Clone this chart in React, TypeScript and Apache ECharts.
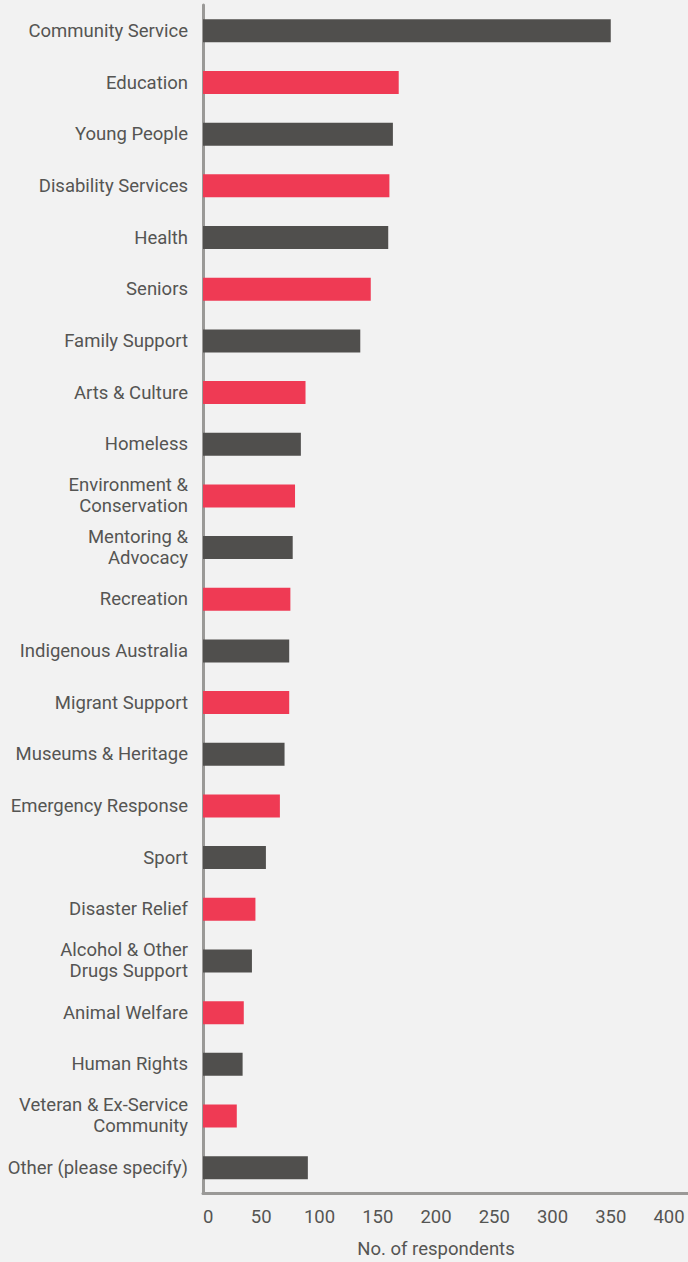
import React, { useEffect, useRef } from "react";
import * as echarts from "echarts";

const categories = [
  "Community Service",
  "Education",
  "Young People",
  "Disability Services",
  "Health",
  "Seniors",
  "Family Support",
  "Arts & Culture",
  "Homeless",
  "Environment &\nConservation",
  "Mentoring &\nAdvocacy",
  "Recreation",
  "Indigenous Australia",
  "Migrant Support",
  "Museums & Heritage",
  "Emergency Response",
  "Sport",
  "Disaster Relief",
  "Alcohol & Other\nDrugs Support",
  "Animal Welfare",
  "Human Rights",
  "Veteran & Ex-Service\nCommunity",
  "Other (please specify)",
];

const respondents = [
  350, 168, 163, 160, 159, 144, 135, 88, 84, 79, 77, 75, 74, 74, 70, 66, 54, 45, 42, 35, 34, 29, 90,
];

const xTicks = [0, 50, 100, 150, 200, 250, 300, 350, 400];

const palette = ["#504f4d", "#ef3a54"];

const FONT = "Roboto, 'Liberation Sans', sans-serif";

export default function App() {
  const ref = useRef<HTMLDivElement>(null);

  useEffect(() => {
    document.body.style.margin = "0";
    document.body.style.background = "#f2f2f2";
    if (!ref.current) return;
    const chart = echarts.init(ref.current, undefined, { renderer: "svg" });
    const gridLeft = 203;
    const gridRight = 19;
    const gridTop = 5;
    const gridBottom = 68.5;
    chart.setOption({
      animation: false,
      backgroundColor: "#f2f2f2",
      textStyle: { fontFamily: FONT },
      grid: {
        left: gridLeft,
        right: gridRight,
        top: gridTop,
        bottom: gridBottom,
        containLabel: false,
        outerBoundsMode: "none",
      },
      xAxis: {
        type: "value",
        min: xTicks[0],
        max: xTicks[xTicks.length - 1],
        interval: xTicks[1] - xTicks[0],
        splitLine: { show: false },
        axisTick: { show: false },
        axisLine: { show: true, lineStyle: { color: "#9a9997", width: 3 } },
        axisLabel: {
          color: "#555553",
          fontSize: 18.5,
          fontFamily: FONT,
          margin: 14,
          alignMinLabel: "left",
        },
        name: "No. of respondents",
        nameLocation: "middle",
        nameGap: 46,
        nameTextStyle: { color: "#555553", fontSize: 18.5, fontFamily: FONT },
      },
      yAxis: {
        type: "category",
        data: categories,
        inverse: true,
        axisTick: { show: false },
        axisLine: { show: true, lineStyle: { color: "#9a9997", width: 3 } },
        axisLabel: {
          color: "#555553",
          fontSize: 18.5,
          fontFamily: FONT,
          margin: 15,
          lineHeight: 21,
          align: "right",
        },
        splitLine: { show: false },
      },
      series: [
        {
          type: "bar",
          barWidth: 23,
          data: respondents.map((v, i) => ({
            value: v,
            itemStyle: { color: palette[i % 2] },
          })),
        },
      ],
      graphic: [
        {
          type: "line",
          shape: { x1: 688 - gridRight, y1: 1262 - gridBottom, x2: 688, y2: 1262 - gridBottom },
          style: { stroke: "#9a9997", lineWidth: 3 },
        },
      ],
    });
    return () => chart.dispose();
  }, []);

  return (
    <div
      ref={ref}
      style={{ position: "absolute", left: 0, top: 0, width: 688, height: 1262, background: "#f2f2f2" }}
    />
  );
}
